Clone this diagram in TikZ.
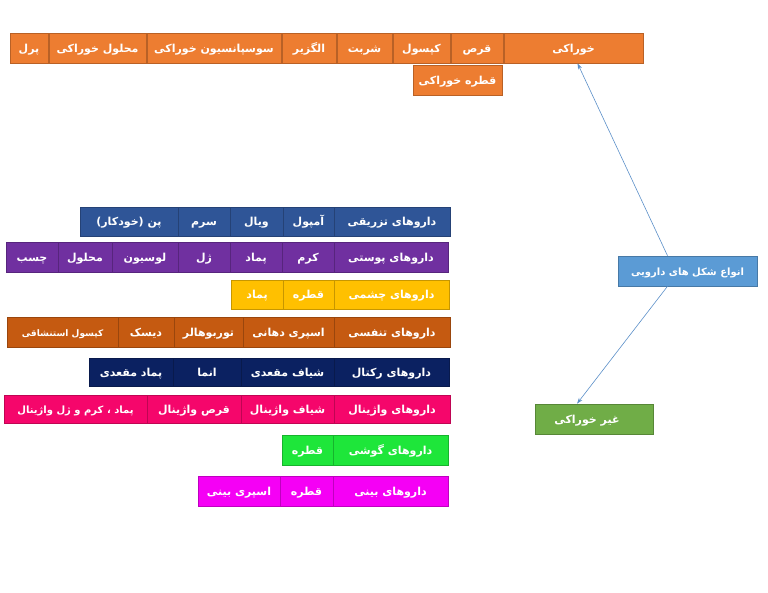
\documentclass[tikz,border=0pt]{standalone}
\usepackage{fontspec}
\usetikzlibrary{calc,arrows.meta}
\TeXXeTstate=1
\newfontfamily\arabicfont[Script=Arabic]{DejaVu Sans}
\definecolor{corange}{HTML}{ED7D31}
\definecolor{cblue}{HTML}{2F5597}
\definecolor{cpurple}{HTML}{7030A0}
\definecolor{cyellow}{HTML}{FFC000}
\definecolor{cbrown}{HTML}{C55A11}
\definecolor{cnavy}{HTML}{0B2161}
\definecolor{cpink}{HTML}{F5066B}
\definecolor{cgreen}{HTML}{1EE63A}
\definecolor{cmagenta}{HTML}{F500F5}
\definecolor{cmain}{HTML}{5B9BD5}
\definecolor{cleaf}{HTML}{70AD47}
\definecolor{carrow}{HTML}{5B8FC8}
\tikzset{
  cell/.style={rectangle, inner sep=0pt, line width=0.6pt, text=white,
    text height=10pt, text depth=1.5pt,
    font=\arabicfont\bfseries\fontsize{11}{13}\selectfont},
  smallcell/.style={font=\arabicfont\bfseries\fontsize{9}{11}\selectfont},
  midcell/.style={font=\arabicfont\bfseries\fontsize{10}{12}\selectfont},
  arr/.style={draw=carrow, line width=0.6pt, -{Stealth[length=6pt,width=4pt]}}
}
\newcommand\cellbox[8][]{%
  \node[cell, fill=#7, draw=#7!78!black, minimum width={#5pt-#3pt}, minimum height={#6pt-#4pt}, #1]
    (#2) at ({(#3+#5)/2},{(#4+#6)/2}) {#8};}
\begin{document}
\begin{tikzpicture}[x=1pt,y=-1pt]
\useasboundingbox (0,0) rectangle (768,593);
% top row
\cellbox{oral}{504}{33}{643}{63}{corange}{\beginR خوراکی\endR}
\cellbox{o1}{451}{33}{503}{63}{corange}{\beginR قرص\endR}
\cellbox{o2}{393}{33}{450}{63}{corange}{\beginR کپسول\endR}
\cellbox{o3}{337}{33}{392}{63}{corange}{\beginR شربت\endR}
\cellbox{o4}{282}{33}{336}{63}{corange}{\beginR الگزیر\endR}
\cellbox{o5}{147}{33}{281}{63}{corange}{\beginR سوسپانسیون خوراکی\endR}
\cellbox{o6}{49}{33}{146}{63}{corange}{\beginR محلول خوراکی\endR}
\cellbox{o7}{10}{33}{48}{63}{corange}{\beginR پرل\endR}
\cellbox{o8}{413}{65}{502}{95}{corange}{\beginR قطره خوراکی\endR}
% injection
\cellbox{r1a}{334}{207}{450}{236}{cblue}{\beginR داروهای تزریقی\endR}
\cellbox{r1b}{283}{207}{334}{236}{cblue}{\beginR آمپول\endR}
\cellbox{r1c}{230}{207}{283}{236}{cblue}{\beginR ویال\endR}
\cellbox{r1d}{178}{207}{230}{236}{cblue}{\beginR سرم\endR}
\cellbox{r1e}{80}{207}{178}{236}{cblue}{\beginR پن (خودکار)\endR}
% skin
\cellbox{r2a}{334}{242}{448}{272}{cpurple}{\beginR داروهای پوستی\endR}
\cellbox{r2b}{282}{242}{334}{272}{cpurple}{\beginR کرم\endR}
\cellbox{r2c}{230}{242}{282}{272}{cpurple}{\beginR پماد\endR}
\cellbox{r2d}{178}{242}{230}{272}{cpurple}{\beginR ژل\endR}
\cellbox{r2e}{112}{242}{178}{272}{cpurple}{\beginR لوسیون\endR}
\cellbox{r2f}{58}{242}{112}{272}{cpurple}{\beginR محلول\endR}
\cellbox{r2g}{6}{242}{58}{272}{cpurple}{\beginR چسب\endR}
% eye
\cellbox{r3a}{334}{280}{449}{309}{cyellow}{\beginR داروهای چشمی\endR}
\cellbox{r3b}{283}{280}{334}{309}{cyellow}{\beginR قطره\endR}
\cellbox{r3c}{231}{280}{283}{309}{cyellow}{\beginR پماد\endR}
% respiratory
\cellbox{r4a}{334}{317}{450}{347}{cbrown}{\beginR داروهای تنفسی\endR}
\cellbox{r4b}{243}{317}{334}{347}{cbrown}{\beginR اسپری دهانی\endR}
\cellbox{r4c}{174}{317}{243}{347}{cbrown}{\beginR توربوهالر\endR}
\cellbox{r4d}{118}{317}{174}{347}{cbrown}{\beginR دیسک\endR}
\cellbox[smallcell]{r4e}{7}{317}{118}{347}{cbrown}{\beginR کپسول استنشاقی\endR}
% rectal
\cellbox{r5a}{334}{358}{449}{386}{cnavy}{\beginR داروهای رکتال\endR}
\cellbox{r5b}{241}{358}{334}{386}{cnavy}{\beginR شیاف مقعدی\endR}
\cellbox{r5c}{173}{358}{241}{386}{cnavy}{\beginR انما\endR}
\cellbox{r5d}{89}{358}{173}{386}{cnavy}{\beginR پماد مقعدی\endR}
% vaginal
\cellbox{r6a}{334}{395}{450}{423}{cpink}{\beginR داروهای واژینال\endR}
\cellbox{r6b}{241}{395}{334}{423}{cpink}{\beginR شیاف واژینال\endR}
\cellbox{r6c}{147}{395}{241}{423}{cpink}{\beginR قرص واژینال\endR}
\cellbox[midcell]{r6d}{4}{395}{147}{423}{cpink}{\beginR پماد ، کرم و ژل واژینال\endR}
% ear
\cellbox{r7a}{333}{435}{448}{465}{cgreen}{\beginR داروهای گوشی\endR}
\cellbox{r7b}{282}{435}{333}{465}{cgreen}{\beginR قطره\endR}
% nose
\cellbox{r8a}{333}{476}{448}{506}{cmagenta}{\beginR داروهای بینی\endR}
\cellbox{r8b}{280}{476}{333}{506}{cmagenta}{\beginR قطره\endR}
\cellbox{r8c}{198}{476}{280}{506}{cmagenta}{\beginR اسپری بینی\endR}
% main and non-oral
\cellbox[midcell]{main}{618}{256}{757}{286}{cmain}{\beginR انواع شکل های دارویی\endR}
\cellbox{nonoral}{535}{404}{653}{434}{cleaf}{\beginR\hspace*{14pt}غیر خوراکی\endR}
% arrows
\draw[arr] ($(main.north)+(-20,0)$) -- ($(oral.south)+(4,0)$);
\draw[arr] ($(main.south)+(-20,0)$) -- ($(nonoral.north)+(-17,0)$);
\end{tikzpicture}
\end{document}
